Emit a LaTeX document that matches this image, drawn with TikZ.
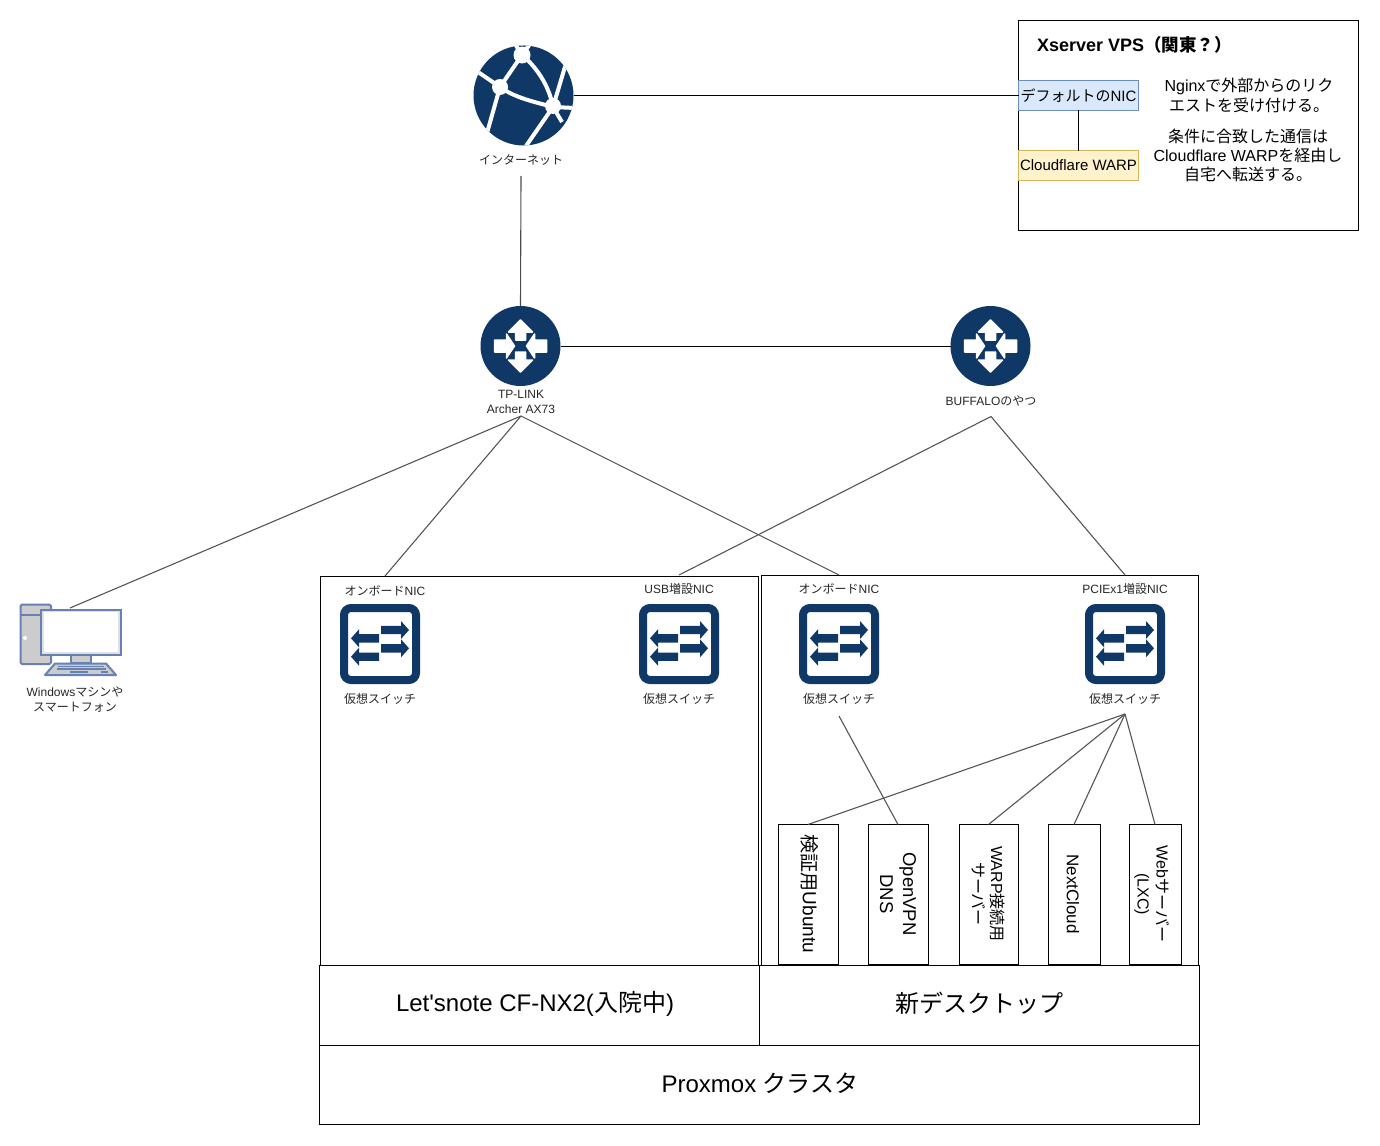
\documentclass[tikz,border=0pt]{standalone}
\usepackage{fontspec}
\setmainfont{Liberation Sans}
\newfontfamily\jpfont{Noto Sans CJK JP}
\newfontfamily\aposfont{Liberation Sans}
\newcommand{\jp}[1]{{\jpfont #1}}
\definecolor{iconblue}{HTML}{0F3866}
\definecolor{pcgray}{HTML}{CCCCCC}
\definecolor{pcblue}{HTML}{6881B3}
\definecolor{linkgray}{HTML}{555555}
\definecolor{nicfill}{HTML}{DAE8FC}
\definecolor{nicline}{HTML}{6C8EBF}
\definecolor{warpfill}{HTML}{FFF2CC}
\definecolor{warpline}{HTML}{D6B656}
\tikzset{
  box/.style={draw, line width=1pt, inner sep=0, outer sep=0, fill=white},
  nicblue/.style={box, fill=nicfill, draw=nicline, minimum width=120, minimum height=30},
  warpyellow/.style={box, fill=warpfill, draw=warpline, minimum width=120, minimum height=30},
  txt/.style={inner sep=0, outer sep=0, font=\fontsize{16}{19}\selectfont, align=center},
  big/.style={txt, font=\fontsize{24}{28}\selectfont},
  small/.style={txt, font=\fontsize{12}{15}\selectfont, text=black!85},
  vmtext/.style={txt, rotate=-90},
  routericon/.style={circle, fill=iconblue, minimum size=80, inner sep=0, outer sep=0},
  switchicon/.style={draw=iconblue, fill=white, line width=8pt, rounded corners=7, minimum size=72, inner sep=0, outer sep=0},
  link/.style={draw=black, line width=1pt},
  graylink/.style={draw=linkgray, line width=1.1pt},
  routermark/.pic={
    \filldraw[white, line width=1.5pt, line join=round] (0,-26) -- (12,-14) -- (5,-14) -- (5,-6) -- (-5,-6) -- (-5,-14) -- (-12,-14) -- cycle;
    \filldraw[white, line width=1.5pt, line join=round] (0,26) -- (12,14) -- (5,14) -- (5,6) -- (-5,6) -- (-5,14) -- (-12,14) -- cycle;
    \filldraw[white, line width=1.5pt, line join=round] (-6,0) -- (-14,-12) -- (-14,-6) -- (-26,-6) -- (-26,6) -- (-14,6) -- (-14,12) -- cycle;
    \filldraw[white, line width=1.5pt, line join=round] (6,0) -- (14,-12) -- (14,-6) -- (26,-6) -- (26,6) -- (14,6) -- (14,12) -- cycle;
  },
  switchmark/.pic={
    \foreach \y in {-14,4.3}
      \fill[iconblue] (1,\y-4.2) -- (21,\y-4.2) -- (21,\y-9) -- (29,\y) -- (21,\y+9) -- (21,\y+4.2) -- (1,\y+4.2) -- cycle;
    \foreach \y in {-5.7,12.7}
      \fill[iconblue] (-1,\y-4.2) -- (-21,\y-4.2) -- (-21,\y-9) -- (-29,\y) -- (-21,\y+9) -- (-21,\y+4.2) -- (-1,\y+4.2) -- cycle;
  }
}
\begin{document}
\begin{tikzpicture}[x=1pt,y=-1pt]
  \useasboundingbox (0,0) rectangle (1380,1145);

  \node (hostleft) at (539.2,770.5) [box, minimum width=438.4, minimum height=389] {};
  \node (hostright) at (980,770) [box, minimum width=437, minimum height=390] {};
  \node (vps) at (1188,125.5) [box, minimum width=340, minimum height=209] {};

  \node (letsnote) at (539.5,1005) [box, minimum width=440, minimum height=80] {};
  \node (desktop) at (979.5,1005) [box, minimum width=440, minimum height=80] {};
  \node (proxmox) at (759.5,1084.5) [box, minimum width=880, minimum height=79] {};
  \node (letsnotetext) at (535,1004) [big] {Let{\aposfont '}snote CF-NX2(\jp{入院中})};
  \node (desktoptext) at (979,1003) [big] {\jp{新デスクトップ}};
  \node (proxmoxtext) at (760,1083) [big] {Proxmox \jp{クラスタ}};

  \node (vmubuntu) at (808,894.5) [box, minimum width=60, minimum height=140] {};
  \node (vmvpn) at (898,894.5) [box, minimum width=60, minimum height=140] {};
  \node (vmwarp) at (988.5,894.5) [box, minimum width=59, minimum height=140] {};
  \node (vmcloud) at (1074,894.5) [box, minimum width=52, minimum height=140] {};
  \node (vmweb) at (1155,894.5) [box, minimum width=52, minimum height=140] {};
  \node (ubuntutext) at (810,894) [vmtext, font=\fontsize{19}{22}\selectfont] {\jp{検証用}Ubuntu};
  \node (vpntext) at (898,894) [vmtext, font=\fontsize{18.5}{23}\selectfont] {OpenVPN\\DNS};
  \node (warptext) at (988,894) [vmtext] {WARP\jp{接続用}\\\jp{サーバー}};
  \node (cloudtext) at (1073,894) [vmtext, font=\fontsize{17}{20}\selectfont] {NextCloud};
  \node (webtext) at (1152,894) [vmtext] {Web\jp{サーバー}\\(LXC)};

  \node (internet) at (523.5,95.5) [circle, fill=iconblue, minimum size=100, inner sep=0, outer sep=0] {};
  \begin{scope}
    \clip (internet) circle (50);
    \draw[white, line width=4pt]
      (522,55) -- (500,87) (500,87) -- (478,72) (500,87) -- (487,133)
      (500,87) .. controls (515,98) and (535,102) .. (553,107)
      (522,55) .. controls (540,70) and (550,90) .. (553,107)
      (522,55) -- (515,44) (522,55) -- (530,44)
      (553,107) -- (567,60) (553,107) -- (575,108)
      (553,107) -- (526,146) (553,107) -- (562,122);
    \fill[white] (522,55) circle (8.5) (500,87) circle (8) (553,106) circle (8);
  \end{scope}
  \node (internetlabel) at (521,160) [small, minimum height=32] {\jp{インターネット}};

  \node (archer) at (520.5,346) [routericon] {};
  \pic at (archer) {routermark};
  \node (archerlabel) at (521,402) [small, minimum height=28] {TP-LINK\\Archer AX73};
  \node (buffalo) at (990.5,346) [routericon] {};
  \pic at (buffalo) {routermark};
  \node (buffalolabel) at (991,401) [small, minimum height=31] {BUFFALO\jp{のやつ}};

  \node (vpstitle) at (1037,45) [txt, anchor=west, font=\fontsize{18}{21}\selectfont\bfseries] {Xserver VPS{\fontsize{17.5}{21}\selectfont\jpfont\bfseries（関東？）}};
  \node (nic) at (1078.5,95.5) [nicblue, font=\fontsize{15}{18}\selectfont] {\jp{デフォルトの}NIC};
  \node (warp) at (1078.5,165.5) [warpyellow, font=\fontsize{15}{18}\selectfont] {Cloudflare WARP};
  \node (nginxtext) at (1249,95) [txt, font=\fontsize{16}{20}\selectfont] {Nginx\jp{で外部からのリク}\\\jp{エストを受け付ける。}};
  \node (warptext2) at (1248,155) [txt] {\jp{条件に合致した通信は}\\Cloudflare WARP\jp{を経由し}\\\jp{自宅へ転送する。}};

  \node (swone) at (380,644) [switchicon] {};
  \pic at (swone) {switchmark};
  \node (swonetop) at (385,591) [small, minimum height=30] {\jp{オンボード}NIC};
  \node (swonelabel) at (380,699) [small] {\jp{仮想スイッチ}};
  \node (swtwo) at (679,644) [switchicon] {};
  \pic at (swtwo) {switchmark};
  \node (swtwotop) at (679,589) [small, minimum height=28] {USB\jp{増設}NIC};
  \node (swtwolabel) at (679,699) [small] {\jp{仮想スイッチ}};
  \node (swthree) at (839,644) [switchicon] {};
  \pic at (swthree) {switchmark};
  \node (swthreetop) at (839,589) [small, minimum height=28] {\jp{オンボード}NIC};
  \node (swthreelabel) at (839,699) [small, minimum height=34] {\jp{仮想スイッチ}};
  \node (swfour) at (1125,644) [switchicon] {};
  \pic at (swfour) {switchmark};
  \node (swfourtop) at (1125,589) [small, minimum height=28] {PCIEx1\jp{増設}NIC};
  \node (swfourlabel) at (1125,699) [small, minimum height=30] {\jp{仮想スイッチ}};

  \draw[draw=pcblue, fill=pcgray, line width=2pt, rounded corners=1.5] (20.5,604.5) rectangle (51,664);
  \draw[draw=pcblue, line width=2pt] (20.5,615) -- (51,615);
  \fill[white] (25,638) circle (2);
  \draw[draw=pcblue, fill=pcgray, line width=2pt] (71,655) rectangle (91,663);
  \draw[draw=pcblue, fill=pcgray, line width=2pt, line join=round] (55,663.5) -- (106,663.5) -- (116,675) -- (45,675) -- cycle;
  \draw[draw=pcblue, line width=1.5pt] (58,666.5) -- (104,666.5) (57,669) -- (106,669) (70,672) -- (88,672) (101,672) -- (108,672);
  \node (pc) at (80.5,632) [box, draw=pcblue, fill=pcgray!60, line width=2pt, minimum width=80, minimum height=45] {};
  \fill[white] (43.5,612) rectangle (118,652);
  \coordinate (pctop) at (70,608);
  \node (pclabel) at (75,700) [small] {Windows\jp{マシンや}\\\jp{スマートフォン}};

  \draw[link] (internet) -- (nic);
  \draw[link] (nic) -- (warp);
  \draw[link] (archer) -- (buffalo);
  \draw[graylink, draw=black!70] (internetlabel.south) -- (archer.north);
  \draw[graylink] (archerlabel.south) -- (pctop);
  \draw[graylink] (archerlabel.south) -- (swonetop.north);
  \draw[graylink] (archerlabel.south) -- (swthreetop.north);
  \draw[graylink] (buffalolabel.south) -- (swtwotop.north);
  \draw[graylink] (buffalolabel.south) -- (swfourtop.north);
  \draw[graylink] (swthreelabel.south) -- (vmvpn.north);
  \foreach \vm in {vmubuntu,vmwarp,vmcloud,vmweb}
    \draw[graylink] (swfourlabel.south) -- (\vm.north);
\end{tikzpicture}
\end{document}
